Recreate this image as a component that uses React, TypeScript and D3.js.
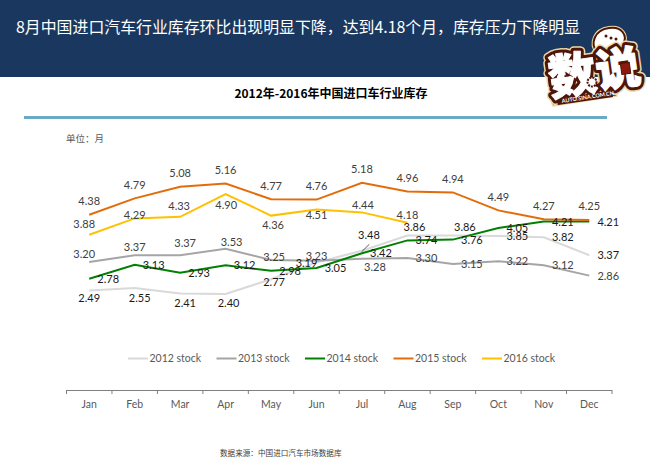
import React from "react";
import * as d3 from "d3";

const months = ["Jan","Feb","Mar","Apr","May","Jun","Jul","Aug","Sep","Oct","Nov","Dec"];
const stock2012 = [2.49,2.55,2.41,2.40,2.77,3.19,3.48,3.86,3.86,3.85,3.82,3.37];
const stock2013 = [3.20,3.37,3.37,3.53,3.25,3.23,3.28,3.30,3.15,3.22,3.12,2.86];
const stock2014 = [2.78,3.13,2.93,3.12,2.98,3.05,3.42,3.74,3.76,4.05,4.21,4.21];
const stock2015 = [4.38,4.79,5.08,5.16,4.77,4.76,5.18,4.96,4.94,4.49,4.27,4.25];
const stock2016 = [3.88,4.29,4.33,4.90,4.36,4.51,4.44,4.18];
const seriesNames = ["2012 stock","2013 stock","2014 stock","2015 stock","2016 stock"];

const colors = ["#d9d9d9","#a5a5a5","#008000","#e36c0a","#ffc000"];
const labelColors = ["#1a1a1a","#404040","#1a1a1a","#404040","#404040"];
const offsets: [number,number][][] = [
  [[0,8],[5,10],[5,9],[3,9],[3,3],[-10,1],[7,-16],[7,-9],[12,-9],[19,0],[19,0],[19,0]],
  [[-5,-8],[0,-8],[5,-12.5],[6,-7],[3,-3],[0,-5],[13,8],[19,0],[19,0],[19,0],[19,0],[19,0]],
  months.map(() => [19,0] as [number,number]),
  months.map(() => [0,-13.6] as [number,number]),
  [[-5,-11],[0,-3.4],[-1,-11],[0.6,11],[2,9.4],[0,5],[1,-7.4],[0,-8]],
];

const font = "Lato, 'Noto Sans', sans-serif";
const cjk = "'Noto Sans CJK SC', sans-serif";

function Sticker() {
  const dark = "#4f1509";
  const rim = "#ecd9a6";
  const bubble = "M597 52 C590 44 594 30 609 28 C622 26 628 36 623 44 C618 51 606 50 602 47 C600 49 600 52 597 52 Z";
  const layer = (ch: string, tx: number, ty: number, fs: number, fill: string, sw: number) => (
    <g transform={`translate(${tx},${ty}) rotate(-8)`}>
      <text fontFamily={cjk} fontSize={fs} fontWeight={900} fill={fill} stroke={fill} strokeWidth={sw} strokeLinejoin="round">{ch}</text>
    </g>
  );
  const chars: [string, number, number, number][] = [["数", 551, 96, 48], ["说", 598, 88, 45]];
  return (
    <g>
      <path d={bubble} fill="#fff" stroke={rim} strokeWidth={4} />
      <path d={bubble} fill="#fff" stroke={dark} strokeWidth={2} />
      <circle cx={606} cy={36} r={1.5} fill={dark} />
      <circle cx={611} cy={38} r={1.5} fill={dark} />
      <circle cx={616} cy={39} r={1.5} fill={dark} />
      <path d="M550 98 L616 89 L617 96 L553 106 Z" fill={dark} stroke={rim} strokeWidth={1.5} strokeLinejoin="round" />
      {chars.map((c) => <React.Fragment key={`r${c[0]}`}>{layer(c[0], c[1], c[2], c[3], rim, 10)}</React.Fragment>)}
      {chars.map((c) => <React.Fragment key={`d${c[0]}`}>{layer(c[0], c[1], c[2], c[3], dark, 7)}</React.Fragment>)}
      <path d="M556 99 L612 90 L613 97 L558 105 Z" fill={dark} />
      {chars.map((c) => <React.Fragment key={`w${c[0]}`}>{layer(c[0], c[1], c[2], c[3], "#fff", 1)}</React.Fragment>)}
      <circle cx={592} cy={82} r={4.5} fill="#fff" stroke={dark} strokeWidth={2} strokeDasharray="2 1" />
      <rect x={621} y={63} width={9} height={11} fill="#8c1a10" stroke={dark} transform="rotate(-8 625 68)" />
      <text x={562} y={103} fontFamily={font} fontSize={5.5} fontWeight={700} fill="#fff" transform="rotate(-9 562 103)">AUTO.SINA.COM.CN</text>
    </g>
  );
}

export default function App() {
  const all = [stock2012, stock2013, stock2014, stock2015, stock2016];
  const x = d3.scaleBand<string>().domain(months).range([66.5, 612]);
  const y = d3.scaleLinear().domain([0, 6]).range([390, 150]);
  const cx = (i: number) => (x(months[i]) as number) + x.bandwidth() / 2;
  const line = d3.line<number>().x((_, i) => cx(i)).y((d) => y(d));
  const edges = [...months.map((m) => x(m) as number), 612];
  const legendX = d3.scalePoint<string>().domain(seriesNames).range([128, 482]);
  return (
    <svg width={650} height={464} style={{ position: "absolute", left: 0, top: 0 }}>
      <rect width={650} height={464} fill="#fff" />
      <rect width={650} height={77} fill="#1a385f" />
      <text x={16} y={33} fontFamily={cjk} fontSize={15.9} fill="#fff">8月中国进口汽车行业库存环比出现明显下降，达到4.18个月，库存压力下降明显</text>
      <text x={331} y={98} textAnchor="middle" fontFamily={cjk} fontSize={12} fontWeight={700} fill="#000">2012年-2016年中国进口车行业库存</text>
      <rect x={24} y={116} width={583} height={3} fill="#6aaac4" />
      <text x={66} y={142} fontFamily={cjk} fontSize={9.5} fill="#595959">单位：月</text>

      {all.map((s, k) => (
        <path key={k} d={line(s) as string} fill="none" stroke={colors[k]} strokeWidth={2} />
      ))}
      <line x1={361.7} y1={251.7} x2={369.3} y2={244.3} stroke="#333" strokeWidth={0.8} />
      {all.map((s, k) => s.map((v, i) => (
        <text key={`${k}-${i}`} x={cx(i) + offsets[k][i][0]} y={y(v) + offsets[k][i][1] + 4} textAnchor="middle"
          fontFamily={font} fontSize={11} fill={labelColors[k]}>{v.toFixed(2)}</text>
      )))}

      {seriesNames.map((n, k) => {
        const lx = legendX(n) as number;
        return (
          <g key={n}>
            <line x1={lx} x2={lx + 20} y1={358.5} y2={358.5} stroke={colors[k]} strokeWidth={2} />
            <text x={lx + 21.5} y={362} fontFamily={font} fontSize={10.5} fill="#595959">{n}</text>
          </g>
        );
      })}

      <line x1={66.5} x2={612} y1={390.5} y2={390.5} stroke="#7f7f7f" />
      {edges.map((e, i) => (
        <line key={i} x1={e} x2={e} y1={390} y2={394} stroke="#7f7f7f" />
      ))}
      {months.map((m, i) => (
        <text key={m} x={cx(i)} y={408} textAnchor="middle" fontFamily={font} fontSize={10.5} fill="#595959">{m}</text>
      ))}
      <text x={220} y={456} fontFamily={cjk} fontSize={7.6} fill="#404040">数据来源：中国进口汽车市场数据库</text>
      <Sticker />
    </svg>
  );
}
